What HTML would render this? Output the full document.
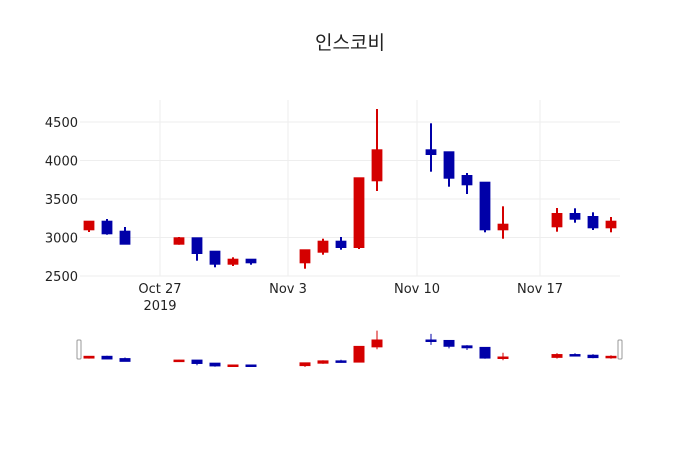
<!DOCTYPE html>
<html><head><meta charset="utf-8"><style>
html,body{margin:0;padding:0;background:#fff;}
svg text{font-family:"DejaVu Sans","Noto Sans CJK KR",sans-serif;fill:#222;}
</style></head><body>
<svg width="700" height="450" xmlns="http://www.w3.org/2000/svg">
<rect width="700" height="450" fill="#fff"/>
<text x="350" y="49" font-size="19" text-anchor="middle" style="font-family:'Noto Sans CJK KR',sans-serif">인스코비</text>
<g stroke="#eee" stroke-width="1">
<line x1="80" x2="620" y1="122" y2="122"/><line x1="80" x2="620" y1="160.5" y2="160.5"/>
<line x1="80" x2="620" y1="199" y2="199"/><line x1="80" x2="620" y1="237.5" y2="237.5"/>
<line x1="80" x2="620" y1="276" y2="276"/>
<line x1="160" x2="160" y1="100" y2="276"/><line x1="288" x2="288" y1="100" y2="276"/>
<line x1="417" x2="417" y1="100" y2="276"/><line x1="540" x2="540" y1="100" y2="276"/>
</g>
<g font-size="13" text-anchor="end">
<text x="78" y="127">4500</text><text x="78" y="165.5">4000</text><text x="78" y="204">3500</text>
<text x="78" y="242.5">3000</text><text x="78" y="281">2500</text>
</g>
<g font-size="13" text-anchor="middle">
<text x="160" y="293">Oct 27</text><text x="160" y="310">2019</text>
<text x="288" y="293">Nov 3</text><text x="417" y="293">Nov 10</text><text x="540" y="293">Nov 17</text>
</g>
<g id="c" stroke-width="2"></g>
<g id="s" stroke-width="1"></g>
<rect x="77" y="340" width="4" height="19" rx="1" fill="#fff" stroke="#999"/>
<rect x="618" y="340" width="4" height="19" rx="1" fill="#fff" stroke="#999"/>
<script>
var R="#d40000",B="#0000a8";
var d=[[89,221.7,229.3,221.7,232,R],[107,221.7,233.3,219,234.7,B],[125,231.7,243.7,227,243.7,B],
[179,238.3,243.7,237,244.7,R],[197,238.3,253,238.3,260.7,B],[215,251.7,263.7,251.7,267.3,B],
[233,259.7,263.7,257.3,266,R],[251,259.7,262.3,259.7,264.7,B],[305,250.3,262.3,250.3,268.7,R],
[323,241.7,251.7,238.7,254.7,R],[341,241.7,247,237,249.7,B],[359,178.3,247,178.3,249,R],
[377,150.3,180.3,109,191,R],[431,150.3,154,123.3,171.7,B],[449,152.3,177.7,152.3,186.7,B],
[467,176,184.3,173,194,B],[485,182.7,229.3,182.7,232.3,B],[503,224.7,229.3,206.3,238.7,R],
[557,214,226.3,208,231.7,R],[575,214,218.7,208.3,222.7,B],[593,217,227.3,212.3,230,B],
[611,221.7,227.3,217,232.3,R]];
var ns="http://www.w3.org/2000/svg",g=document.getElementById("c"),s=document.getElementById("s");
function add(p,t,a){var e=document.createElementNS(ns,t);for(var k in a)e.setAttribute(k,a[k]);p.appendChild(e);}
function sy(y){return 340+(y-150.3)*0.2285;}
d.forEach(function(c){
add(g,"line",{x1:c[0],x2:c[0],y1:c[3],y2:c[4],stroke:c[5]});
add(g,"rect",{x:c[0]-4.4,y:c[1],width:8.8,height:Math.max(c[2]-c[1],1.5),fill:c[5],stroke:c[5]});
add(s,"line",{x1:c[0],x2:c[0],y1:sy(c[3]),y2:sy(c[4]),stroke:c[5]});
add(s,"rect",{x:c[0]-5,y:sy(c[1]),width:10,height:Math.max(sy(c[2])-sy(c[1]),1.5),fill:c[5],stroke:c[5]});
});
</script>
</svg>
</body></html>
